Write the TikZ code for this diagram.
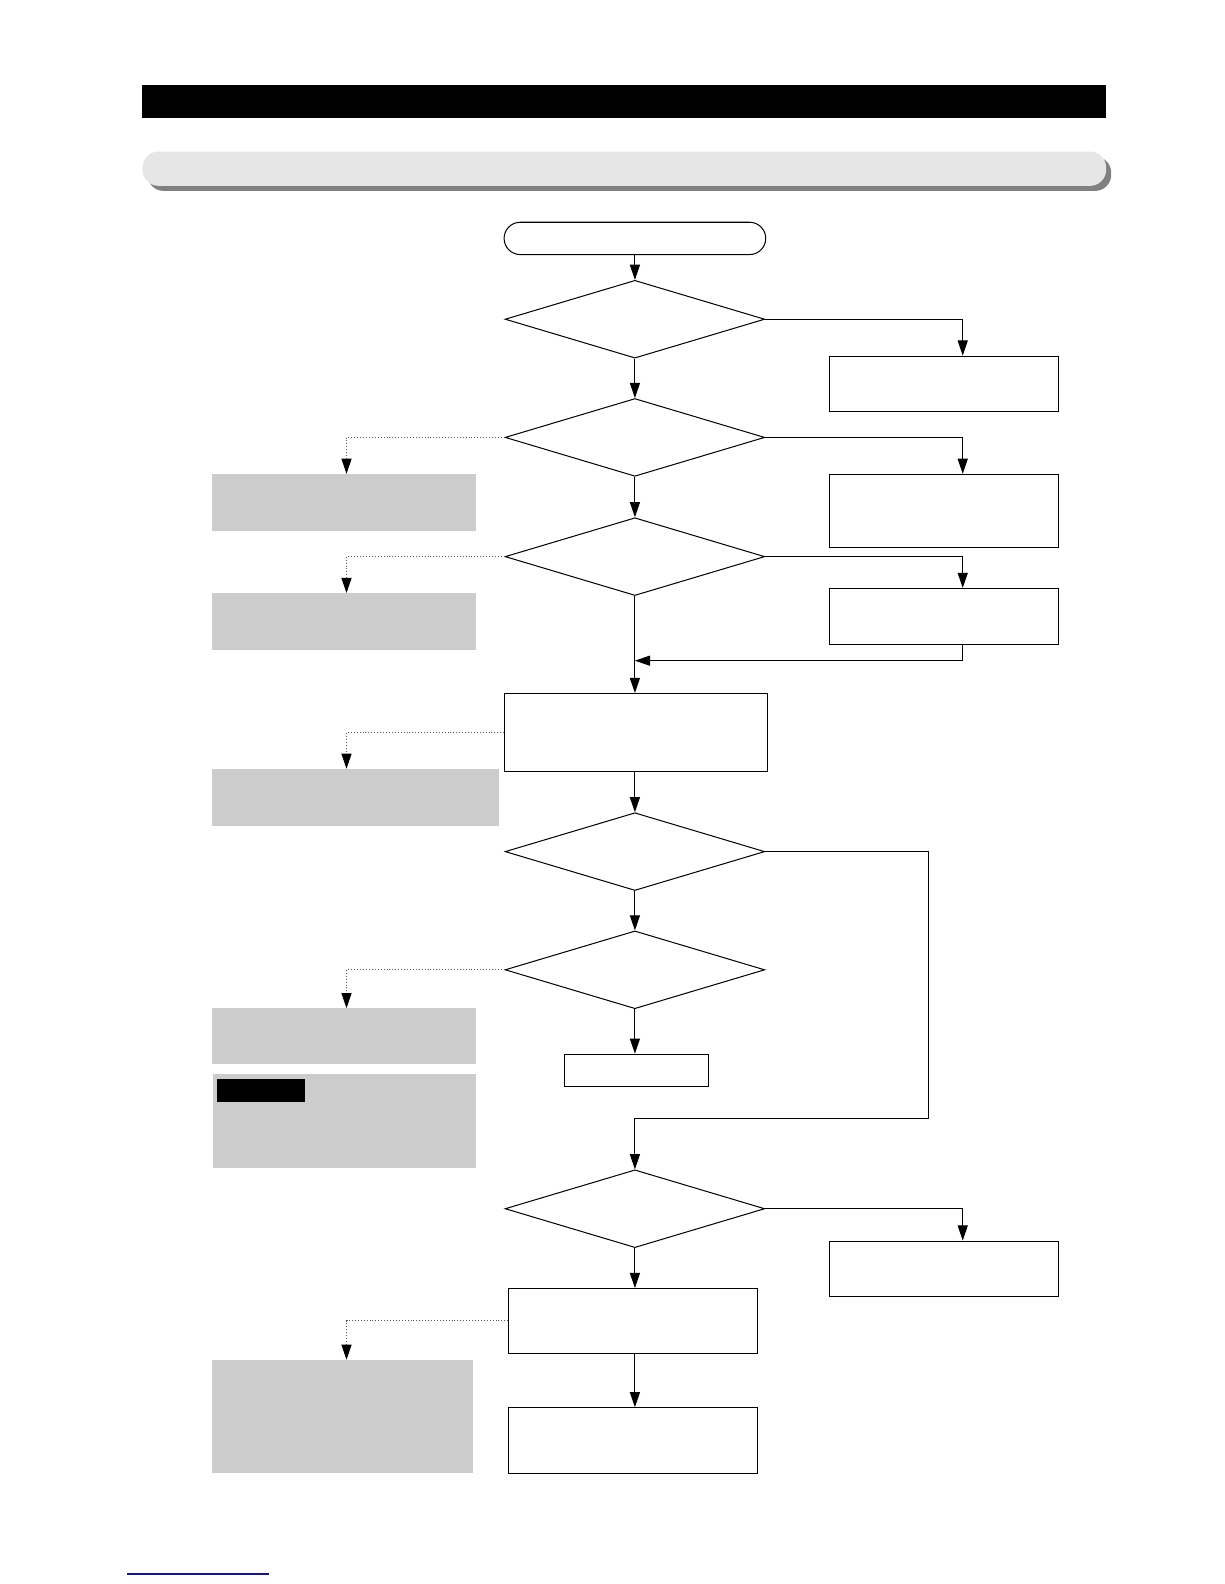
\documentclass[tikz,border=0pt]{standalone}
\usetikzlibrary{shapes.geometric,arrows.meta,calc}
\definecolor{grayfill}{HTML}{CCCCCC}
\definecolor{barfill}{HTML}{E6E6E6}
\definecolor{shadowc}{HTML}{808080}
\definecolor{dgray}{HTML}{555555}
\definecolor{linkblue}{HTML}{1010B0}
\begin{document}
\begin{tikzpicture}[x=1pt,y=-1pt,
  box/.style={draw, line width=1pt, inner sep=0pt, anchor=north west, fill=white},
  gbox/.style={fill=grayfill, inner sep=0pt, anchor=north west},
  term/.style={draw, line width=1pt, inner sep=0pt, rounded corners=16pt, minimum width=259pt, minimum height=32pt},
  dec/.style={draw, diamond, aspect=3.34, minimum width=257pt, minimum height=77pt, inner sep=0pt, line width=1pt},
  arr/.style={line width=1pt, -{Triangle[length=15pt,width=10pt]}},
  plain/.style={line width=1pt},
  darr/.style={dotted, line width=0.9pt, draw=dgray, -{Triangle[length=15pt,width=10pt,black]}}]
\useasboundingbox (0,0) rectangle (1212,1568);
% header bars
\fill[black] (141,84) rectangle (1095,117);
\fill[shadowc, rounded corners=16pt] (146,155) rectangle (1100,189);
\fill[barfill, rounded corners=16pt] (141,150) rectangle (1095,184);
% nodes
\node[term] (start) at (628.5,236) {};
\node[dec] (d1) at (628.5,316) {};
\node[box, minimum width=226pt, minimum height=55pt] (r1) at (821,352) {};
\node[dec] (d2) at (628.5,433) {};
\node[box, minimum width=226pt, minimum height=72pt] (r2) at (821,469) {};
\node[gbox, minimum width=261pt, minimum height=56pt] (g1) at (210,469) {};
\node[dec] (d3) at (628.5,551) {};
\node[box, minimum width=226pt, minimum height=55pt] (r3) at (821,582) {};
\node[gbox, minimum width=261pt, minimum height=56pt] (g2) at (210,587) {};
\node[box, minimum width=260pt, minimum height=77pt] (p1) at (499,686) {};
\node[gbox, minimum width=284pt, minimum height=56pt] (g3) at (210,761) {};
\node[dec] (d4) at (628.5,843) {};
\node[dec] (d5) at (628.5,960) {};
\node[gbox, minimum width=261pt, minimum height=55pt] (g4) at (210,998) {};
\node[gbox, minimum width=260pt, minimum height=93pt] (g5) at (211,1063) {};
\node[fill=black, inner sep=0pt, anchor=north west, minimum width=87pt, minimum height=23pt] (tag) at (215,1068) {};
\node[box, minimum width=143pt, minimum height=32pt] (s) at (558,1043) {};
\node[dec] (d6) at (628.5,1196.5) {};
\node[box, minimum width=226pt, minimum height=55pt] (r4) at (821,1228) {};
\node[box, minimum width=246pt, minimum height=64pt] (p2) at (503,1275) {};
\node[box, minimum width=246pt, minimum height=65pt] (p3) at (503,1393) {};
\node[gbox, minimum width=258pt, minimum height=112pt] (g6) at (210,1346) {};
\coordinate (j1) at (628.5,654);
\coordinate (k1) at (919,1107);
% connectors
\draw[arr] (start.south) -- (d1.north);
\draw[arr] (d1.east) -| ([xshift=132pt]r1.north west);
\draw[arr] (d1.south) -- (d2.north);
\draw[arr] (d2.east) -| ([xshift=132pt]r2.north west);
\draw[darr] (d2.west) -| ([xshift=133pt]g1.north west);
\draw[arr] (d2.south) -- (d3.north);
\draw[arr] (d3.east) -| ([xshift=132pt]r3.north west);
\draw[darr] (d3.west) -| ([xshift=133pt]g2.north west);
\draw[arr] (d3.south) -- (d3.south |- p1.north);
\draw[arr] ([xshift=132pt]r3.south west) |- (j1);
\draw[darr] (p1.west) -| ([xshift=133pt]g3.north west);
\draw[arr] (d4.north |- p1.south) -- (d4.north);
\draw[arr] (d4.south) -- (d5.north);
\draw[plain, -{Triangle[length=15pt,width=10pt]}] (d4.east) -| (k1) -| (d6.north);
\draw[darr] (d5.west) -| ([xshift=133pt]g4.north west);
\draw[arr] (d5.south) -- (d5.south |- s.north);
\draw[arr] (d6.east) -| ([xshift=132pt]r4.north west);
\draw[arr] (d6.south) -- (d6.south |- p2.north);
\draw[darr] (p2.west) -| ([xshift=133pt]g6.north west);
\draw[arr] (d6.south |- p2.south) -- (d6.south |- p3.north);
% footer link line
\draw[linkblue, line width=1.2pt] (126,1558) -- (266,1558);
\end{tikzpicture}
\end{document}
